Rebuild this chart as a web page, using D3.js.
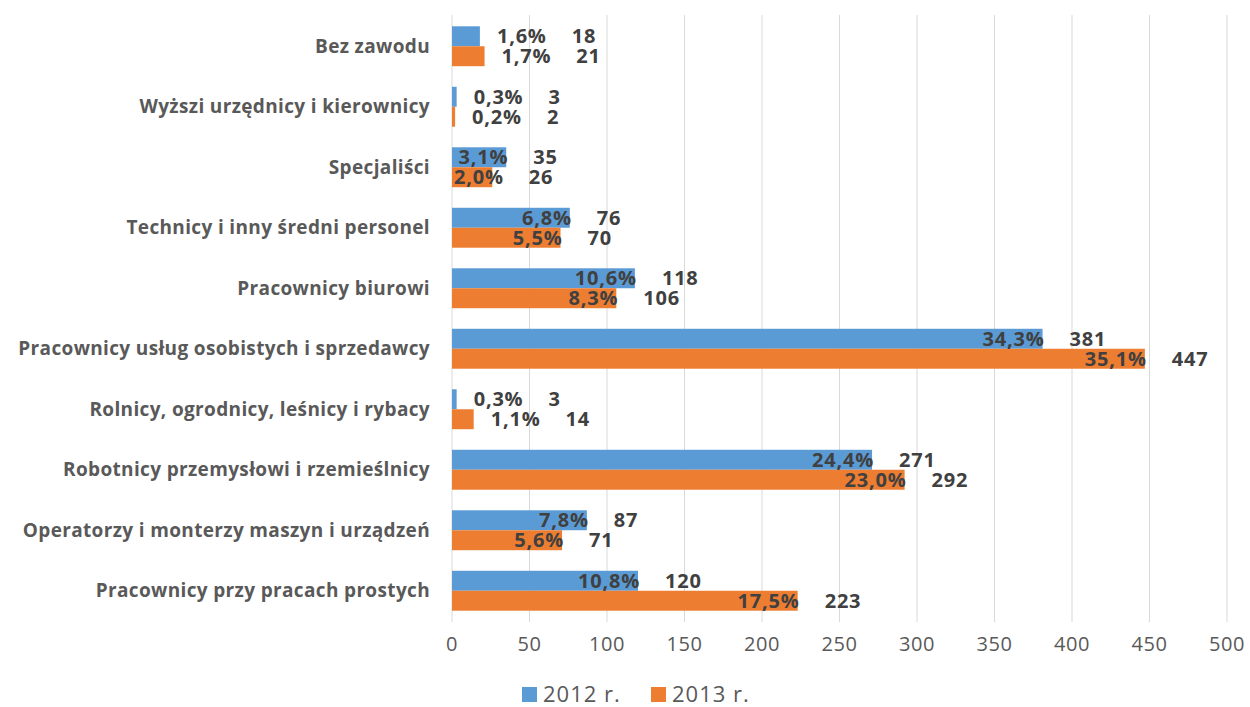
<!DOCTYPE html>
<html>
<head>
<meta charset="utf-8">
<script src="https://cdn.jsdelivr.net/npm/d3@7"></script>
<style>
  body { margin: 0; background: #fff; }
  text { font-family: "Open Sans", sans-serif; }
</style>
</head>
<body>
<svg id="chart"></svg>
<script>
var categories = [
  "Bez zawodu",
  "Wyższi urzędnicy i kierownicy",
  "Specjaliści",
  "Technicy i inny średni personel",
  "Pracownicy biurowi",
  "Pracownicy usług osobistych i sprzedawcy",
  "Rolnicy, ogrodnicy, leśnicy i rybacy",
  "Robotnicy przemysłowi i rzemieślnicy",
  "Operatorzy i monterzy maszyn i urządzeń",
  "Pracownicy przy pracach prostych"
];
var series = ["2012 r.", "2013 r."];
var values2012 = [18, 3, 35, 76, 118, 381, 3, 271, 87, 120];
var values2013 = [21, 2, 26, 70, 106, 447, 14, 292, 71, 223];
var pct2012 = ["1,6%", "0,3%", "3,1%", "6,8%", "10,6%", "34,3%", "0,3%", "24,4%", "7,8%", "10,8%"];
var pct2013 = ["1,7%", "0,2%", "2,0%", "5,5%", "8,3%", "35,1%", "1,1%", "23,0%", "5,6%", "17,5%"];
var xTicks = [0, 50, 100, 150, 200, 250, 300, 350, 400, 450, 500];
var colors = ["#5b9bd5", "#ed7d31"];

var W = 1250, H = 707;
var margin = {top: 16, right: 23, bottom: 86, left: 452};

var svg = d3.select("#chart").attr("width", W).attr("height", H);

var x = d3.scaleLinear().domain([0, 500]).range([margin.left, W - margin.right]);
var y = d3.scaleBand().domain(categories).range([margin.top, H - margin.bottom]).paddingInner(0.34).paddingOuter(0.17);
var ySub = d3.scaleBand().domain([0, 1]).range([0, y.bandwidth()]);

// gridlines
svg.append("g").selectAll("line")
  .data(xTicks)
  .enter().append("line")
    .attr("x1", function(d){ return x(d); })
    .attr("x2", function(d){ return x(d); })
    .attr("y1", margin.top - 1)
    .attr("y2", H - margin.bottom + 1)
    .attr("stroke", "#d9d9d9")
    .attr("stroke-width", 1);

// tick labels
svg.append("g").selectAll("text")
  .data(xTicks)
  .enter().append("text")
    .attr("x", function(d){ return x(d); })
    .attr("y", H - margin.bottom + 30)
    .attr("text-anchor", "middle")
    .attr("font-size", 20)
    .attr("letter-spacing", 0.5)
    .attr("fill", "#595959")
    .text(function(d){ return d; });

// category labels
svg.append("g").selectAll("text")
  .data(categories)
  .enter().append("text")
    .attr("x", margin.left - 22)
    .attr("y", function(d){ return y(d) + y.bandwidth() / 2; })
    .attr("dy", "0.35em")
    .attr("text-anchor", "end")
    .attr("font-size", 19)
    .attr("font-weight", 700)
    .attr("letter-spacing", 0.35)
    .attr("fill", "#595959")
    .text(function(d){ return d; });

var rows = [];
categories.forEach(function(c, i){
  rows.push({cat: c, s: 0, v: values2012[i], p: pct2012[i]});
  rows.push({cat: c, s: 1, v: values2013[i], p: pct2013[i]});
});

var g = svg.append("g");

g.selectAll("rect")
  .data(rows)
  .enter().append("rect")
    .attr("x", x(0))
    .attr("y", function(d){ return y(d.cat) + ySub(d.s); })
    .attr("width", function(d){ return x(d.v) - x(0); })
    .attr("height", ySub.bandwidth())
    .attr("fill", function(d){ return colors[d.s]; });

// percent labels: inside end when the bar is long enough, otherwise just outside
var pctText = g.selectAll("text.pct")
  .data(rows)
  .enter().append("text")
    .attr("class", "pct")
    .attr("y", function(d){ return y(d.cat) + ySub(d.s) + ySub.bandwidth() / 2; })
    .attr("dy", "0.36em")
    .attr("font-size", 20)
    .attr("font-weight", 700)
    .attr("letter-spacing", 0.8)
    .attr("fill", "#404040")
    .text(function(d){ return d.p; });

pctText.each(function(d){
  var w = this.getComputedTextLength();
  var end = x(d.v);
  var start;
  if (end - x(0) >= 38) start = Math.max(end - w + 2, x(0) + 2);
  else start = end + 17;
  d.labelEnd = start + w;
  d3.select(this).attr("x", start);
});

g.selectAll("text.val")
  .data(rows)
  .enter().append("text")
    .attr("class", "val")
    .attr("x", function(d){ return d.labelEnd + 25; })
    .attr("y", function(d){ return y(d.cat) + ySub(d.s) + ySub.bandwidth() / 2; })
    .attr("dy", "0.36em")
    .attr("font-size", 20)
    .attr("font-weight", 700)
    .attr("letter-spacing", 0.8)
    .attr("fill", "#404040")
    .text(function(d){ return d.v; });

// legend
var legend = svg.append("g").selectAll("g")
  .data(series)
  .enter().append("g")
    .attr("transform", function(d, i){ return "translate(" + (522 + i * 129) + "," + 694 + ")"; });

legend.append("rect")
  .attr("x", 0).attr("y", -7)
  .attr("width", 15).attr("height", 15)
  .attr("fill", function(d, i){ return colors[i]; });

legend.append("text")
  .attr("x", 21)
  .attr("y", 0)
  .attr("dy", "0.35em")
  .attr("font-size", 22)
  .attr("letter-spacing", 1)
  .attr("fill", "#595959")
  .text(function(d){ return d; });
</script>
</body>
</html>
